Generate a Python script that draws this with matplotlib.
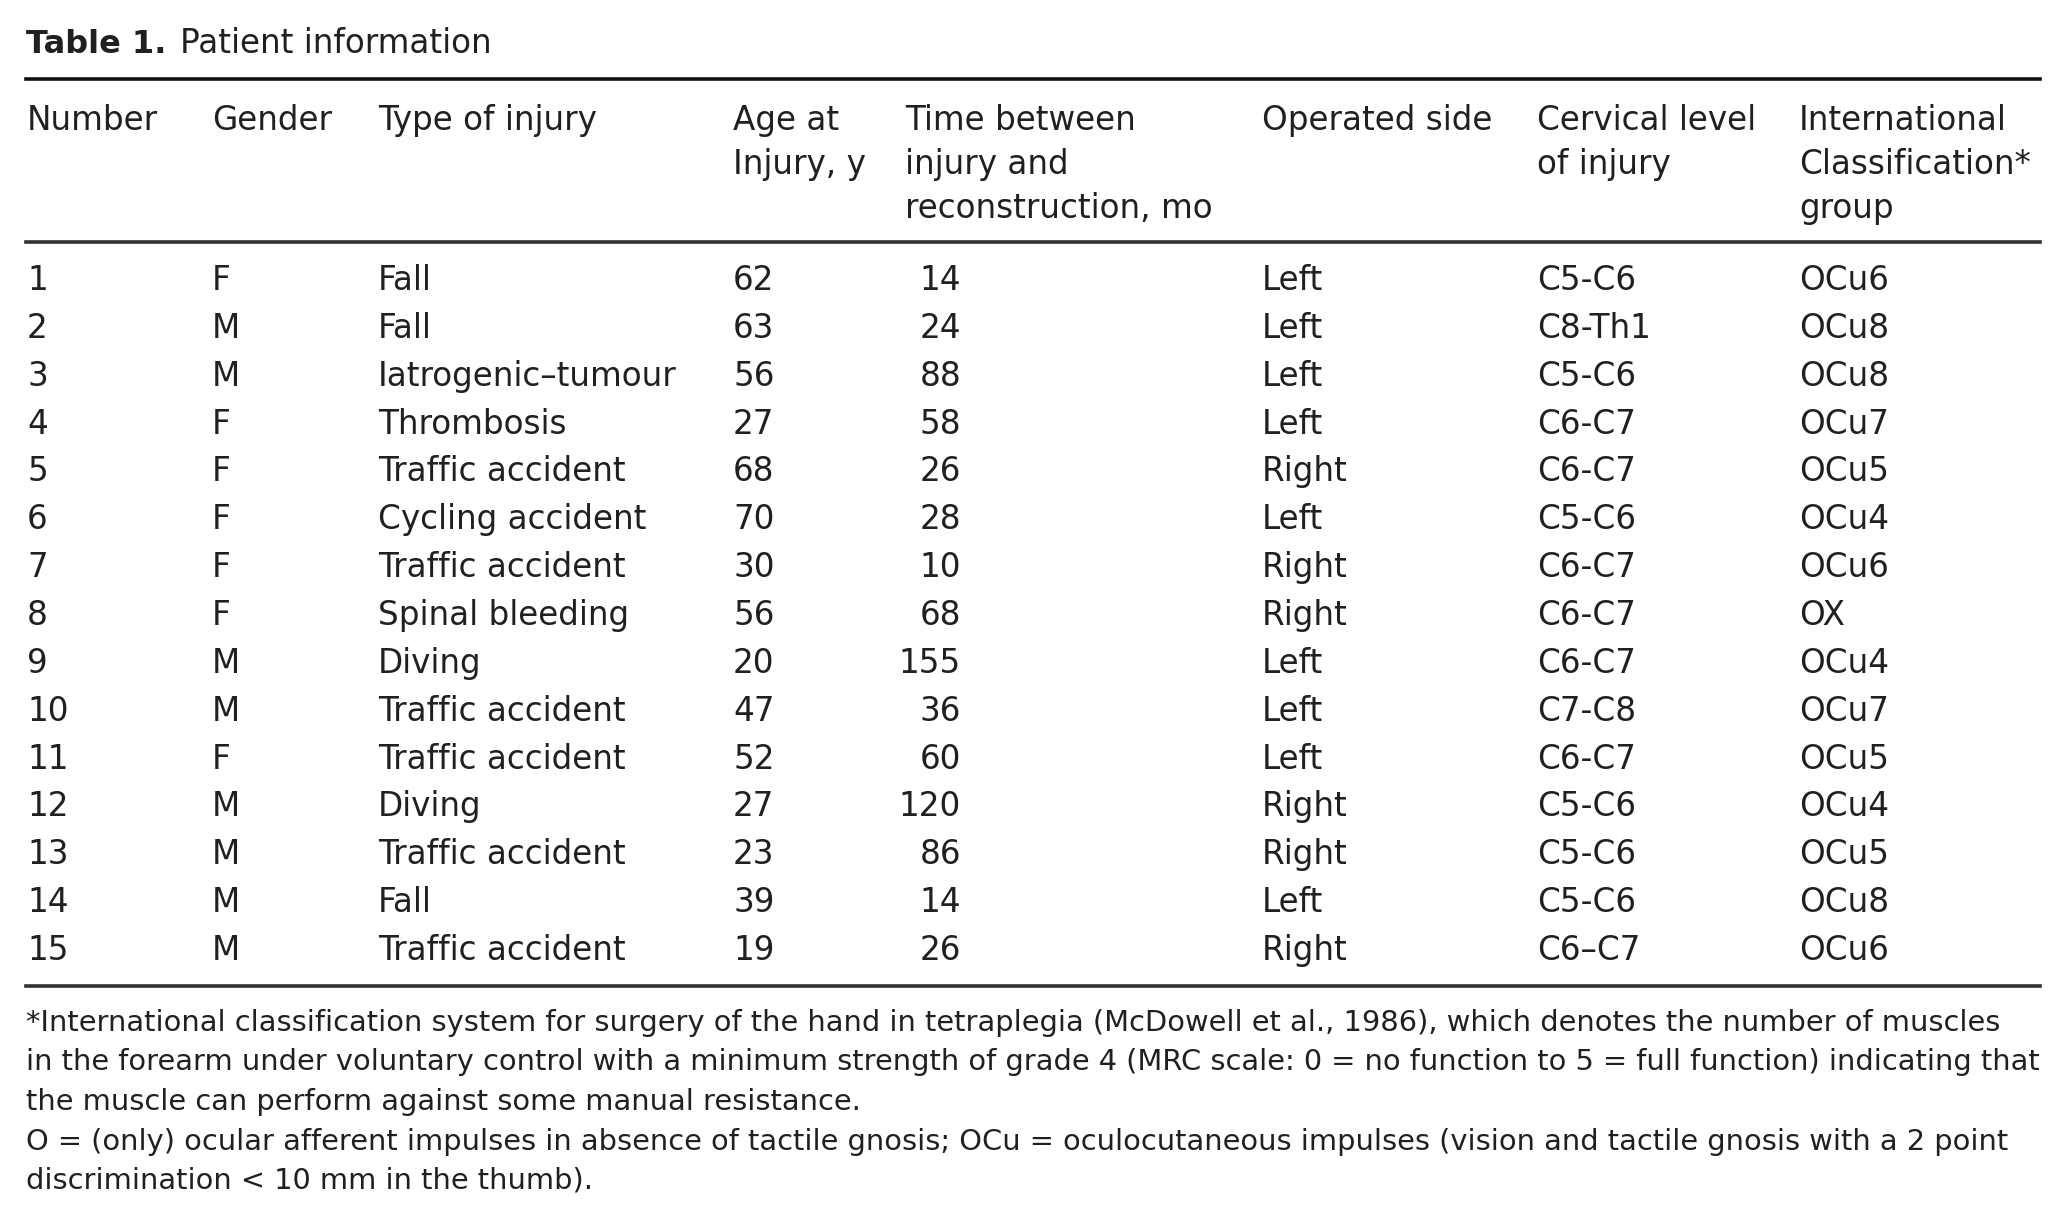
import matplotlib
matplotlib.use("Agg")
import matplotlib.pyplot as plt
from matplotlib.lines import Line2D

W, H = 2065, 1218

numbers = [str(i) for i in range(1, 16)]
gender = ["F", "M", "M", "F", "F", "F", "F", "F", "M", "M", "F", "M", "M", "M", "M"]
injury = ["Fall", "Fall", "Iatrogenic\u2013tumour", "Thrombosis", "Traffic accident",
          "Cycling accident", "Traffic accident", "Spinal bleeding", "Diving",
          "Traffic accident", "Traffic accident", "Diving", "Traffic accident",
          "Fall", "Traffic accident"]
age = [62, 63, 56, 27, 68, 70, 30, 56, 20, 47, 52, 27, 23, 39, 19]
months = [14, 24, 88, 58, 26, 28, 10, 68, 155, 36, 60, 120, 86, 14, 26]
side = ["Left", "Left", "Left", "Left", "Right", "Left", "Right", "Right", "Left",
        "Left", "Left", "Right", "Right", "Left", "Right"]
level = ["C5-C6", "C8-Th1", "C5-C6", "C6-C7", "C6-C7", "C5-C6", "C6-C7", "C6-C7",
         "C6-C7", "C7-C8", "C6-C7", "C5-C6", "C5-C6", "C5-C6", "C6\u2013C7"]
group = ["OCu6", "OCu8", "OCu8", "OCu7", "OCu5", "OCu4", "OCu6", "OX", "OCu4",
         "OCu7", "OCu5", "OCu4", "OCu5", "OCu8", "OCu6"]

headers = [["Number"], ["Gender"], ["Type of injury"], ["Age at", "Injury, y"],
           ["Time between", "injury and", "reconstruction, mo"], ["Operated side"],
           ["Cervical level", "of injury"], ["International", "Classification*", "group"]]

footnote = [
    "*International classification system for surgery of the hand in tetraplegia (McDowell et al., 1986), which denotes the number of muscles",
    "in the forearm under voluntary control with a minimum strength of grade 4 (MRC scale: 0 = no function to 5 = full function) indicating that",
    "the muscle can perform against some manual resistance.",
    "O = (only) ocular afferent impulses in absence of tactile gnosis; OCu = oculocutaneous impulses (vision and tactile gnosis with a 2 point",
    "discrimination < 10 mm in the thumb).",
]

col_x = [27, 212, 378, 733, 905, 1262, 1537, 1799]
months_right = 961
ink = "#231f20"
font = ["DejaVu Sans"]
fs = 23.5
fs_note = 20.8

fig = plt.figure(figsize=(W / 100, H / 100), dpi=100)
fig.patch.set_facecolor("white")


def put(x, y, s, **kw):
    kw.setdefault("fontsize", fs)
    kw.setdefault("color", ink)
    kw.setdefault("family", font)
    fig.text(x / W, 1 - y / H, s, va="baseline", **kw)


def rule(y, lw=2.6, color="#111111"):
    fig.add_artist(Line2D([26 / W, 2040 / W], [1 - y / H, 1 - y / H],
                          lw=lw, color=color, transform=fig.transFigure))


# title
put(26, 53, "Table 1.", fontweight="bold", fontsize=23)
put(180, 53, "Patient information")

rule(79)
for x, lines in zip(col_x, headers):
    for j, s in enumerate(lines):
        put(x, 130 + j * 44, s)
rule(242, color="#333333")

row0, step = 290, 47.86
for i in range(len(numbers)):
    y = row0 + i * step
    put(col_x[0], y, numbers[i])
    put(col_x[1], y, gender[i])
    put(col_x[2], y, injury[i])
    put(col_x[3], y, str(age[i]))
    put(months_right, y, str(months[i]), ha="right")
    put(col_x[5], y, side[i])
    put(col_x[6], y, level[i])
    put(col_x[7], y, group[i])
rule(986, color="#333333")

for j, s in enumerate(footnote):
    put(26, 1031 + j * 39.5, s, fontsize=fs_note)

fig.savefig("out.png", dpi=100, facecolor="white")
